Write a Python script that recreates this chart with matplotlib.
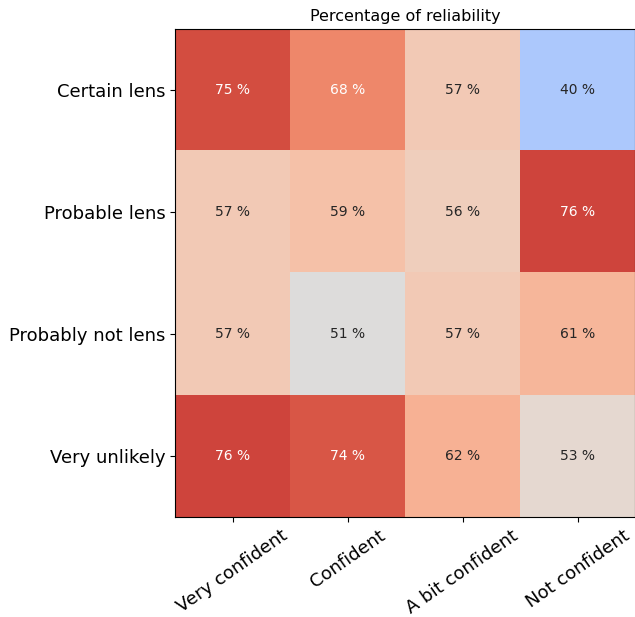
import numpy as np
import matplotlib.pyplot as plt
from matplotlib.colors import TwoSlopeNorm

classes = ["Certain lens", "Probable lens", "Probably not lens", "Very unlikely"]
confidence = ["Very confident", "Confident", "A bit confident", "Not confident"]

# reliability in percent, rows = classification, cols = confidence level
reliability = np.array([
    [75, 68, 57, 40],
    [57, 59, 56, 76],
    [57, 51, 57, 61],
    [76, 74, 62, 53],
])

fig = plt.figure(figsize=(6.35, 6.17), dpi=100)
ax = fig.add_axes([0.2756, 0.162, 0.7244, 0.791])

norm = TwoSlopeNorm(vmin=16.6, vcenter=51, vmax=80.4)
ax.imshow(reliability, cmap="coolwarm", norm=norm, aspect="auto")

for i in range(len(classes)):
    for j in range(len(confidence)):
        v = reliability[i, j]
        col = "white" if v >= 65 else "#262626"
        ax.text(j, i, f"{v} %", ha="center", va="center", color=col, fontsize=10)

ax.set_xticks(range(len(confidence)))
ax.set_xticklabels(confidence, rotation=35, ha="center", fontsize=13)
ax.set_yticks(range(len(classes)))
ax.set_yticklabels(classes, fontsize=13)
ax.set_title("Percentage of reliability", fontsize=11.5)

fig.savefig("out.png", dpi=100)
